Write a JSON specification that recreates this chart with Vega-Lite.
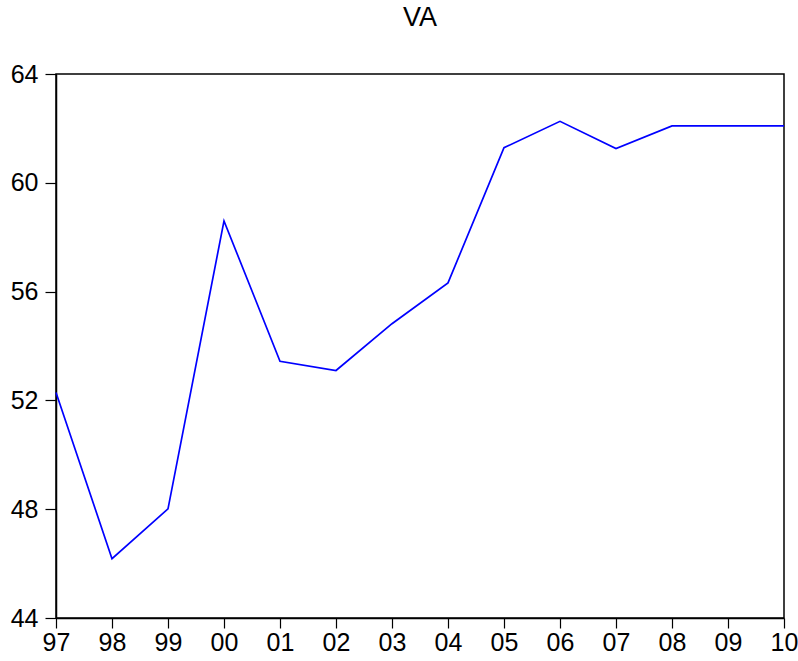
{
  "$schema": "https://vega.github.io/schema/vega-lite/v6.json",
  "autosize": "none",
  "width": 728,
  "height": 544,
  "padding": {"left": 56, "top": 74, "right": 14, "bottom": 43},
  "background": "white",
  "config": {
    "font": "Liberation Sans",
    "view": {"stroke": "black", "strokeWidth": 1.5},
    "axis": {"grid": false, "domainColor": "black", "tickColor": "black", "labelColor": "black", "labelFont": "Liberation Sans", "labelFontSize": 25, "domainWidth": 1.5, "tickWidth": 1.2}
  },
  "title": {"text": "VA", "fontSize": 27, "font": "Liberation Sans", "fontWeight": "normal", "color": "black", "anchor": "middle", "offset": 30},
  "data": {
    "values": [
      {"year": "97", "VA": 52.29},
      {"year": "98", "VA": 46.18},
      {"year": "99", "VA": 48.01},
      {"year": "00", "VA": 58.60},
      {"year": "01", "VA": 53.44},
      {"year": "02", "VA": 53.10},
      {"year": "03", "VA": 54.82},
      {"year": "04", "VA": 56.32},
      {"year": "05", "VA": 61.29},
      {"year": "06", "VA": 62.26},
      {"year": "07", "VA": 61.26},
      {"year": "08", "VA": 62.09},
      {"year": "09", "VA": 62.09},
      {"year": "10", "VA": 62.09}
    ]
  },
  "mark": {"type": "line", "color": "#0000FF", "strokeWidth": 1.7},
  "encoding": {
    "x": {
      "field": "year", "type": "ordinal", "sort": null,
      "scale": {"type": "point", "padding": 0},
      "axis": {"title": null, "labelAngle": 0, "tickSize": 10, "labelPadding": 2, "labelOverlap": false, "labelBound": false, "labelFlush": false}
    },
    "y": {
      "field": "VA", "type": "quantitative",
      "scale": {"domain": [44, 64], "nice": false, "zero": false},
      "axis": {"title": null, "values": [44, 48, 52, 56, 60, 64], "tickSize": 11, "labelPadding": 7}
    }
  }
}
